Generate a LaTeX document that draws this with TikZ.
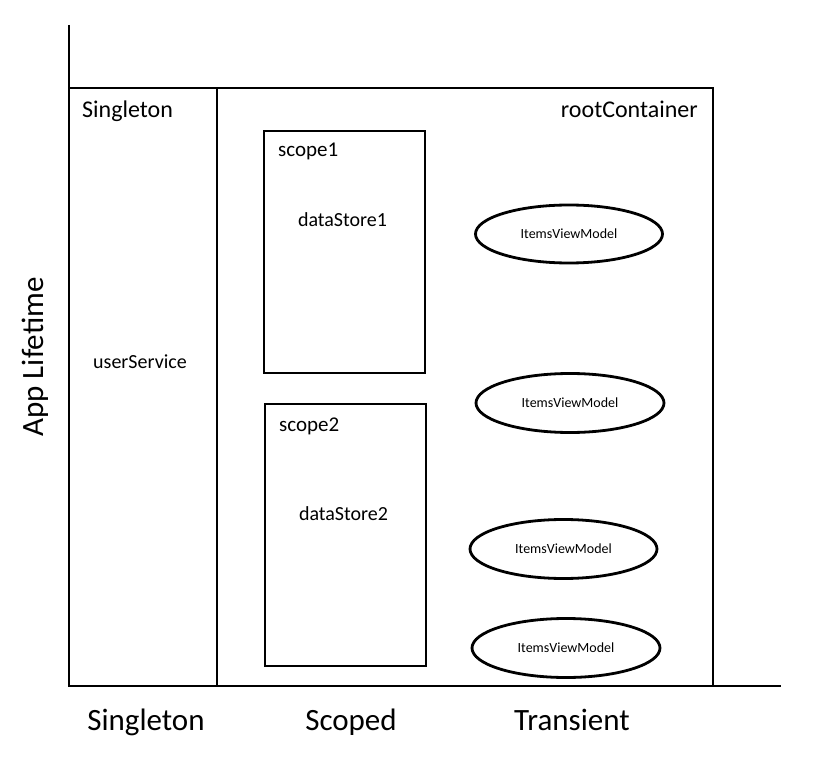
\documentclass[tikz,border=0pt]{standalone}
\usepackage{fontspec}
\setmainfont{Carlito}
\usetikzlibrary{shapes.geometric}
\tikzset{
  ln/.style={line width=2.6pt},
  box/.style={draw, ln, rectangle, inner sep=0pt, outer sep=0pt},
  ivm/.style={draw, line width=2.8pt, ellipse, inner sep=0pt, outer sep=0pt,
    font=\fontsize{14}{16}\selectfont},
  big/.style={font=\fontsize{31}{36}\selectfont, inner sep=0pt},
  mid/.style={font=\fontsize{24}{28}\selectfont, inner sep=0pt},
  scopelbl/.style={font=\fontsize{21}{24}\selectfont, inner sep=0pt},
  small/.style={font=\fontsize{20}{23}\selectfont, inner sep=0pt},
}
\begin{document}
\begin{tikzpicture}[x=1pt,y=-1pt]
\useasboundingbox (0,0) rectangle (825,762);
% columns
\node[box, minimum width=148pt, minimum height=598pt] (single) at (143,387) {};
\node[box, minimum width=496pt, minimum height=598pt] (root) at (465,387) {};
% scopes
\node[box, minimum width=161pt, minimum height=242pt] (scope1) at (344.5,252) {};
\node[box, minimum width=161pt, minimum height=262pt] (scope2) at (345.5,535) {};
% axes
\coordinate (ytop) at (69,25);
\coordinate (xend) at (781,686);
\draw[ln] (ytop) -- (single.south west) -- (xend);
% ellipses
\node[ivm, minimum width=187pt, minimum height=58pt] (e1) at (569,234) {ItemsViewModel};
\node[ivm, minimum width=188pt, minimum height=59pt] (e2) at (570,403) {ItemsViewModel};
\node[ivm, minimum width=187pt, minimum height=59pt] (e3) at (563.5,549) {ItemsViewModel};
\node[ivm, minimum width=188pt, minimum height=59pt] (e4) at (566,648) {ItemsViewModel};
% labels
\node[mid, anchor=base west] (lsingle) at (82,118) {Singleton};
\node[mid, anchor=base east] (lroot) at (698,118) {rootContainer};
\node[scopelbl, anchor=base west] (ls1) at (278,157) {scope1};
\node[scopelbl, anchor=base west] (ls2) at (279,431) {scope2};
\node[small, anchor=base] (ds1) at (342.5,227) {dataStore1};
\node[small, anchor=base] (ds2) at (343.5,520) {dataStore2};
\node[small, anchor=base] (us) at (140,368) {userService};
\node[big, anchor=base, rotate=90] (life) at (43,357) {App Lifetime};
\node[big, anchor=base] (xs) at (146,730) {Singleton};
\node[big, anchor=base] (xsc) at (351,730) {Scoped};
\node[big, anchor=base] (xt) at (572,730) {Transient};
\end{tikzpicture}
\end{document}
